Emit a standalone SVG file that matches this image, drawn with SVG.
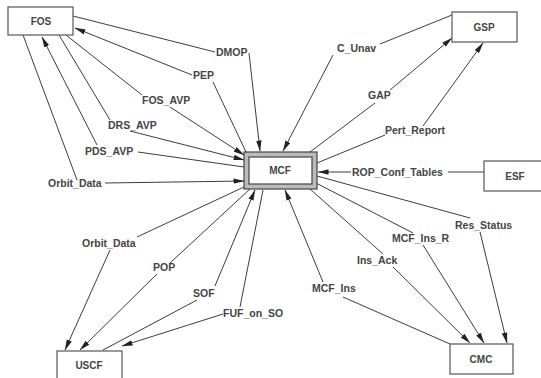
<svg xmlns="http://www.w3.org/2000/svg" width="541" height="378" viewBox="0 0 541 378">
  <style>
    .box { fill: #ffffff; stroke: #555; stroke-width: 1.2; }
    .ntext { font-family: "Liberation Sans", Arial, sans-serif; font-size: 10px; font-weight: bold; fill: #444; text-anchor: middle; }
    .lbl { font-family: "Liberation Sans", Arial, sans-serif; font-size: 10.5px; font-weight: bold; fill: #444; }
    .ln { stroke: #3c3c3c; stroke-width: 1; fill: none; }
    .arr { marker-end: url(#head); }
  </style>
  <defs>
    <marker id="head" markerUnits="userSpaceOnUse" markerWidth="11" markerHeight="6" refX="10.5" refY="3" orient="auto">
      <path d="M0,0.3 L11,3 L0,5.7 z" fill="#222"/>
    </marker>
  </defs>
  <rect width="541" height="378" fill="#fff"/>

  <g id="connectors">
    <!-- DMOP: FOS -> MCF -->
    <line class="ln" x1="73" y1="16" x2="215" y2="52"/>
    <line class="ln arr" x1="249" y1="53" x2="260" y2="151"/>
    <text class="lbl" x="216" y="56">DMOP</text>
    <!-- PEP: MCF -> FOS -->
    <line class="ln" x1="246" y1="152" x2="213" y2="82"/>
    <line class="ln arr" x1="192" y1="75" x2="75" y2="28"/>
    <text class="lbl" x="193" y="79">PEP</text>
    <!-- FOS_AVP: FOS -> MCF -->
    <line class="ln" x1="66" y1="35" x2="142" y2="95"/>
    <line class="ln arr" x1="170" y1="107" x2="244" y2="155"/>
    <text class="lbl" x="142" y="104">FOS_AVP</text>
    <!-- DRS_AVP: FOS -> MCF -->
    <line class="ln" x1="59" y1="35" x2="110" y2="120"/>
    <line class="ln arr" x1="130" y1="131" x2="244" y2="160"/>
    <text class="lbl" x="108" y="129">DRS_AVP</text>
    <!-- PDS_AVP: MCF -> FOS -->
    <line class="ln" x1="244" y1="167" x2="138" y2="152"/>
    <line class="ln arr" x1="97" y1="145" x2="42" y2="37"/>
    <text class="lbl" x="85" y="155">PDS_AVP</text>
    <!-- Orbit_Data: FOS -> MCF -->
    <line class="ln" x1="23" y1="35" x2="77" y2="180"/>
    <line class="ln arr" x1="105" y1="183" x2="244" y2="181"/>
    <text class="lbl" x="48" y="187">Orbit_Data</text>
    <!-- C_Unav: GSP -> MCF -->
    <line class="ln" x1="452" y1="15" x2="380" y2="44"/>
    <line class="ln arr" x1="333" y1="55" x2="283" y2="151"/>
    <text class="lbl" x="337" y="52">C_Unav</text>
    <!-- GAP: MCF -> GSP -->
    <line class="ln" x1="310" y1="152" x2="375" y2="103"/>
    <line class="ln arr" x1="390" y1="90" x2="452" y2="38"/>
    <text class="lbl" x="368" y="99">GAP</text>
    <!-- Pert_Report: MCF -> GSP -->
    <line class="ln" x1="317" y1="163" x2="385" y2="135"/>
    <line class="ln arr" x1="423" y1="126" x2="483" y2="43"/>
    <text class="lbl" x="385" y="134">Pert_Report</text>
    <!-- ROP_Conf_Tables: ESF -> MCF -->
    <line class="ln" x1="484" y1="172" x2="448" y2="172"/>
    <line class="ln arr" x1="351" y1="172" x2="318" y2="172"/>
    <text class="lbl" x="352" y="176">ROP_Conf_Tables</text>
    <!-- Res_Status: MCF -> CMC -->
    <line class="ln" x1="317" y1="176" x2="470" y2="218"/>
    <line class="ln arr" x1="480" y1="232" x2="507" y2="343"/>
    <text class="lbl" x="455" y="229">Res_Status</text>
    <!-- MCF_Ins_R: MCF -> CMC -->
    <line class="ln" x1="316" y1="183" x2="413" y2="233"/>
    <line class="ln arr" x1="423" y1="245" x2="484" y2="343"/>
    <text class="lbl" x="392" y="242">MCF_Ins_R</text>
    <!-- Ins_Ack: MCF -> CMC -->
    <line class="ln" x1="310" y1="189" x2="383" y2="254"/>
    <line class="ln arr" x1="393" y1="267" x2="470" y2="343"/>
    <text class="lbl" x="357" y="264">Ins_Ack</text>
    <!-- MCF_Ins: CMC -> MCF -->
    <line class="ln" x1="450" y1="344" x2="343" y2="297"/>
    <line class="ln arr" x1="323" y1="282" x2="285" y2="190"/>
    <text class="lbl" x="312" y="292">MCF_Ins</text>
    <!-- Orbit_Data: MCF -> USCF -->
    <line class="ln" x1="244" y1="187" x2="137" y2="237"/>
    <line class="ln arr" x1="110" y1="250" x2="65" y2="350"/>
    <text class="lbl" x="82" y="247">Orbit_Data</text>
    <!-- POP: MCF -> USCF -->
    <line class="ln" x1="250" y1="189" x2="170" y2="263"/>
    <line class="ln arr" x1="157" y1="274" x2="80" y2="350"/>
    <text class="lbl" x="153" y="271">POP</text>
    <!-- SOF: USCF -> MCF -->
    <line class="ln" x1="103" y1="350" x2="197" y2="300"/>
    <line class="ln arr" x1="215" y1="286" x2="255" y2="190"/>
    <text class="lbl" x="193" y="297">SOF</text>
    <!-- FUF_on_SO: MCF -> USCF -->
    <line class="ln" x1="263" y1="190" x2="240" y2="307"/>
    <line class="ln arr" x1="223" y1="314" x2="122" y2="346"/>
    <text class="lbl" x="223" y="317">FUF_on_SO</text>
  </g>

  <g id="FOS">
    <rect class="box" x="8" y="7" width="65" height="28"/>
    <text class="ntext" x="41" y="25">FOS</text>
  </g>
  <g id="GSP">
    <rect class="box" x="452" y="12" width="65" height="30"/>
    <text class="ntext" x="484" y="31">GSP</text>
  </g>
  <g id="ESF">
    <rect class="box" x="484" y="161" width="62" height="30"/>
    <text class="ntext" x="515" y="180">ESF</text>
  </g>
  <g id="MCF">
    <rect x="244" y="152" width="73" height="37" fill="#bbb" stroke="#444" stroke-width="1.2"/>
    <rect x="249" y="157" width="63" height="27" fill="#fff" stroke="#444" stroke-width="1.2"/>
    <text class="ntext" x="280" y="174">MCF</text>
  </g>
  <g id="USCF">
    <rect class="box" x="57" y="351" width="65" height="30"/>
    <text class="ntext" x="89" y="369">USCF</text>
  </g>
  <g id="CMC">
    <rect class="box" x="450" y="344" width="63" height="30"/>
    <text class="ntext" x="481" y="363">CMC</text>
  </g>
</svg>
